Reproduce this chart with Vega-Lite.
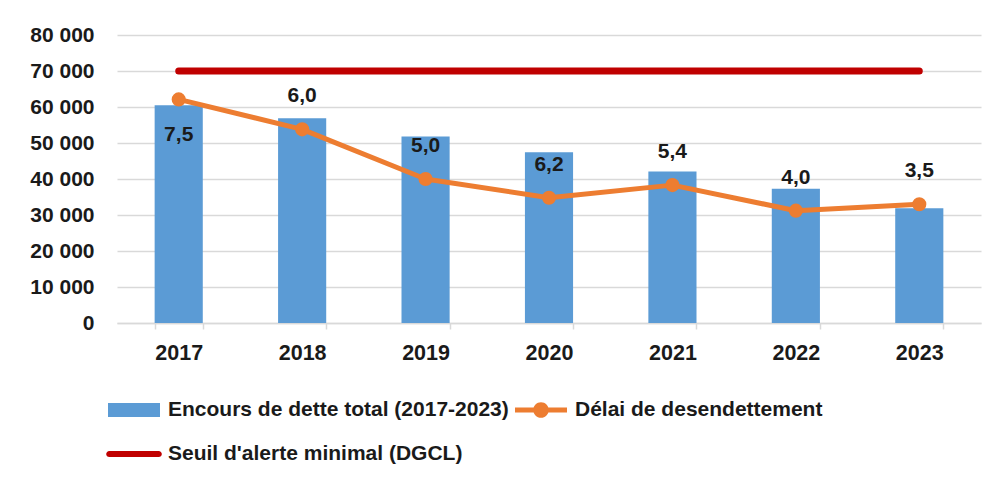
{
  "$schema": "https://vega.github.io/schema/vega-lite/v6.json",
  "width": 864,
  "height": 288,
  "autosize": "none",
  "padding": {"left": 117, "top": 35, "right": 16, "bottom": 161},
  "background": "white",
  "data": {
    "values": [
      {"annee": "2017", "encours": 60500, "delai": 7.5, "delai_niveau": 62100, "seuil": 70000},
      {"annee": "2018", "encours": 56900, "delai": 6.0, "delai_niveau": 53800, "seuil": 70000},
      {"annee": "2019", "encours": 51800, "delai": 5.0, "delai_niveau": 40000, "seuil": 70000},
      {"annee": "2020", "encours": 47400, "delai": 6.2, "delai_niveau": 34800, "seuil": 70000},
      {"annee": "2021", "encours": 42100, "delai": 5.4, "delai_niveau": 38300, "seuil": 70000},
      {"annee": "2022", "encours": 37300, "delai": 4.0, "delai_niveau": 31200, "seuil": 70000},
      {"annee": "2023", "encours": 31900, "delai": 3.5, "delai_niveau": 33000, "seuil": 70000}
    ]
  },
  "encoding": {
    "x": {
      "field": "annee",
      "type": "nominal",
      "scale": {"paddingInner": 0.61, "paddingOuter": 0.305},
      "axis": {
        "title": null,
        "labelAngle": 0,
        "labelFont": "Liberation Sans",
        "labelFontSize": 21.5,
        "labelFontWeight": "bold",
        "labelColor": "#1a1a1a",
        "labelPadding": 13,
        "domainColor": "#d9d9d9",
        "domainWidth": 1.5,
        "tickColor": "#d9d9d9",
        "tickWidth": 1.5,
        "tickSize": 6,
        "tickBand": "extent",
        "grid": false
      }
    }
  },
  "layer": [
    {
      "mark": {"type": "bar"},
      "encoding": {
        "y": {
          "field": "encours",
          "type": "quantitative",
          "scale": {"domain": [0, 80000], "nice": false},
          "axis": {
            "title": null,
            "tickCount": 8,
            "format": ",.0f",
            "labelFont": "Liberation Sans",
            "labelFontSize": 21,
            "labelFontWeight": "bold",
            "labelColor": "#1a1a1a",
            "labelPadding": 23,
            "domain": false,
            "ticks": false,
            "tickSize": 0,
            "grid": true,
            "gridColor": "#d9d9d9",
            "gridWidth": 1.5
          }
        },
        "color": {
          "datum": "Encours de dette total (2017-2023)",
          "type": "nominal",
          "scale": {
            "domain": ["Encours de dette total (2017-2023)", "Délai de desendettement", "Seuil d'alerte minimal (DGCL)"],
            "range": ["#5b9bd5", "#ed7d31", "#c00000"]
          },
          "legend": {
            "title": null,
            "orient": "none",
            "direction": "horizontal",
            "legendX": -9,
            "legendY": 349,
            "columns": 2,
            "columnPadding": 6,
            "rowPadding": 8,
            "padding": 0,
            "symbolSize": 2704,
            "labelOffset": 8,
            "labelLimit": 0,
            "labelFont": "Liberation Sans",
            "labelFontSize": 21,
            "labelFontWeight": "bold",
            "labelColor": "#1a1a1a",
            "encode": {
              "symbols": {
                "update": {
                  "shape": {"signal": "datum.value === 'Encours de dette total (2017-2023)' ? 'M-1,-0.27H1V0.27H-1Z' : (datum.value === 'Délai de desendettement' ? 'M-1,-0.1H1V0.1H-1Z M0.3,0A0.3,0.3 0 1,1 -0.3,0A0.3,0.3 0 1,1 0.3,0Z' : 'M-0.95,-0.12H0.95A0.12,0.12 0 0,1 0.95,0.12H-0.95A0.12,0.12 0 0,1 -0.95,-0.12Z')"},
                  "fill": {"signal": "datum.value === 'Encours de dette total (2017-2023)' ? '#5b9bd5' : (datum.value === 'Délai de desendettement' ? '#ed7d31' : '#c00000')"},
                  "strokeWidth": {"value": 0},
                  "opacity": {"value": 1},
                  "fillOpacity": {"value": 1}
                }
              }
            }
          }
        }
      }
    },
    {
      "mark": {"type": "line", "strokeWidth": 5, "strokeCap": "round", "strokeJoin": "round"},
      "encoding": {
        "y": {"field": "delai_niveau", "type": "quantitative"},
        "color": {"datum": "Délai de desendettement", "type": "nominal"}
      }
    },
    {
      "mark": {"type": "line", "strokeWidth": 7, "strokeCap": "round"},
      "encoding": {
        "y": {"field": "seuil", "type": "quantitative"},
        "color": {"datum": "Seuil d'alerte minimal (DGCL)", "type": "nominal"}
      }
    },
    {
      "mark": {"type": "point", "shape": "circle", "filled": true, "size": 200, "opacity": 1, "color": "#ed7d31"},
      "encoding": {
        "y": {"field": "delai_niveau", "type": "quantitative"}
      }
    },
    {
      "transform": [{"filter": "datum.annee !== '2017'"}],
      "mark": {"type": "text", "dy": -33, "font": "Liberation Sans", "fontSize": 21, "fontWeight": "bold", "color": "#1a1a1a"},
      "encoding": {
        "y": {"field": "delai_niveau", "type": "quantitative"},
        "text": {"field": "delai", "type": "quantitative", "format": ".1f"}
      }
    },
    {
      "transform": [{"filter": "datum.annee === '2017'"}],
      "mark": {"type": "text", "dy": 36, "font": "Liberation Sans", "fontSize": 21, "fontWeight": "bold", "color": "#1a1a1a"},
      "encoding": {
        "y": {"field": "delai_niveau", "type": "quantitative"},
        "text": {"field": "delai", "type": "quantitative", "format": ".1f"}
      }
    }
  ],
  "config": {
    "view": {"stroke": null},
    "locale": {"number": {"decimal": ",", "thousands": " ", "grouping": [3], "currency": ["", " €"]}}
  }
}
